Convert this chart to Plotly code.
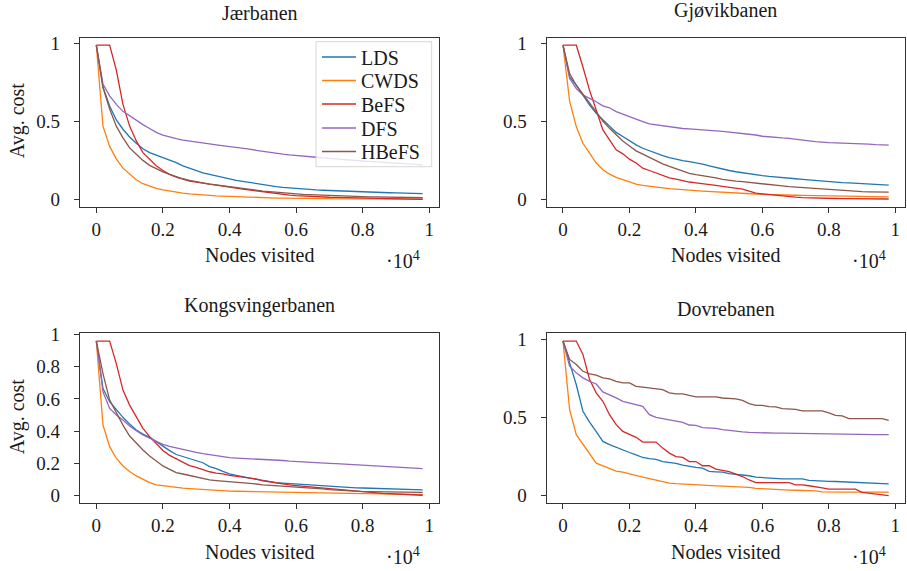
import plotly.graph_objects as go

W, H = 907, 571

nodes = list(range(0, 9801, 200))
x_tick_vals = [0, 2000, 4000, 6000, 8000, 10000]
x_tick_text = ["0", "0.2", "0.4", "0.6", "0.8", "1"]

series_names = ["LDS", "CWDS", "BeFS", "DFS", "HBeFS"]
series_colors = ["#1f77b4", "#ff7f0e", "#d62728", "#9467bd", "#8c564b"]
panel_titles = ["Jærbanen", "Gjøvikbanen", "Kongsvingerbanen", "Dovrebanen"]

# ---------------- Jærbanen ----------------
jaer_lds = [0.99, 0.72, 0.60, 0.51, 0.45, 0.40, 0.36, 0.325, 0.30, 0.285,
            0.27, 0.25, 0.235, 0.215, 0.20, 0.183, 0.17, 0.16, 0.15, 0.14,
            0.13, 0.122, 0.115, 0.108, 0.10, 0.095, 0.088, 0.082, 0.077, 0.073,
            0.07, 0.066, 0.063, 0.06, 0.058, 0.056, 0.054, 0.052, 0.05, 0.048,
            0.047, 0.046, 0.045, 0.044, 0.042, 0.041, 0.04, 0.039, 0.038, 0.037]
jaer_cwds = [0.99, 0.47, 0.34, 0.26, 0.20, 0.16, 0.125, 0.10, 0.084, 0.07,
             0.06, 0.052, 0.046, 0.04, 0.035, 0.031, 0.028, 0.025, 0.022, 0.02,
             0.018, 0.016, 0.014, 0.012, 0.011, 0.01, 0.009, 0.008, 0.007, 0.006,
             0.006, 0.005, 0.005, 0.004, 0.004, 0.004, 0.003, 0.003, 0.003, 0.003,
             0.002, 0.002, 0.002, 0.002, 0.002, 0.001, 0.001, 0.001, 0.001, 0.001]
jaer_befs = [0.99, 0.99, 0.99, 0.83, 0.61, 0.47, 0.375, 0.30, 0.26, 0.215,
             0.185, 0.16, 0.142, 0.128, 0.117, 0.11, 0.103, 0.097, 0.092, 0.085,
             0.078, 0.072, 0.066, 0.06, 0.053, 0.047, 0.042, 0.037, 0.032, 0.027,
             0.023, 0.02, 0.018, 0.016, 0.014, 0.013, 0.012, 0.011, 0.01, 0.009,
             0.008, 0.007, 0.006, 0.005, 0.004, 0.003, 0.002, 0.001, 0.0, 0.0]
jaer_dfs = [0.99, 0.74, 0.665, 0.61, 0.565, 0.535, 0.507, 0.48, 0.455, 0.43,
            0.413, 0.40, 0.39, 0.38, 0.375, 0.368, 0.362, 0.356, 0.35, 0.345,
            0.34, 0.334, 0.328, 0.322, 0.315, 0.308, 0.302, 0.297, 0.29, 0.285,
            0.28, 0.277, 0.273, 0.27, 0.266, 0.262, 0.258, 0.255, 0.252, 0.249,
            0.246, 0.243, 0.24, 0.237, 0.234, 0.231, 0.228, 0.226, 0.223, 0.221]
jaer_hbefs = [0.99, 0.72, 0.58, 0.47, 0.395, 0.33, 0.29, 0.25, 0.218, 0.195,
              0.176, 0.16, 0.145, 0.132, 0.122, 0.113, 0.105, 0.098, 0.092, 0.086,
              0.08, 0.074, 0.068, 0.063, 0.058, 0.053, 0.049, 0.045, 0.041, 0.038,
              0.035, 0.032, 0.03, 0.028, 0.026, 0.024, 0.022, 0.021, 0.02, 0.018,
              0.017, 0.016, 0.015, 0.014, 0.013, 0.012, 0.012, 0.011, 0.011, 0.01]

# ---------------- Gjøvikbanen ----------------
gjov_lds = [0.99, 0.786, 0.733, 0.67, 0.605, 0.552, 0.51, 0.467, 0.43, 0.403,
            0.375, 0.35, 0.328, 0.311, 0.297, 0.281, 0.268, 0.256, 0.248, 0.242,
            0.236, 0.226, 0.215, 0.204, 0.193, 0.185, 0.177, 0.17, 0.163, 0.157,
            0.152, 0.147, 0.142, 0.138, 0.135, 0.132, 0.128, 0.124, 0.12, 0.117,
            0.113, 0.11, 0.107, 0.105, 0.103, 0.101, 0.099, 0.096, 0.093, 0.091]
gjov_cwds = [0.99, 0.63, 0.467, 0.36, 0.297, 0.233, 0.19, 0.162, 0.141, 0.126,
             0.111, 0.098, 0.09, 0.083, 0.078, 0.073, 0.068, 0.064, 0.06, 0.058,
             0.056, 0.053, 0.05, 0.048, 0.046, 0.045, 0.043, 0.04, 0.037, 0.034,
             0.032, 0.03, 0.029, 0.028, 0.027, 0.026, 0.025, 0.024, 0.023, 0.022,
             0.02, 0.019, 0.018, 0.018, 0.017, 0.017, 0.016, 0.016, 0.015, 0.015]
gjov_befs = [0.99, 0.99, 0.99, 0.85, 0.70, 0.574, 0.446, 0.382, 0.318, 0.292,
             0.258, 0.233, 0.20, 0.185, 0.169, 0.15, 0.138, 0.13, 0.12, 0.111,
             0.106, 0.102, 0.098, 0.09, 0.083, 0.076, 0.07, 0.066, 0.052, 0.04,
             0.035, 0.03, 0.026, 0.022, 0.018, 0.014, 0.011, 0.009, 0.007, 0.006,
             0.005, 0.005, 0.004, 0.004, 0.004, 0.003, 0.003, 0.002, 0.002, 0.002]
gjov_dfs = [0.99, 0.776, 0.712, 0.67, 0.648, 0.627, 0.60, 0.588, 0.563, 0.546,
            0.53, 0.516, 0.499, 0.484, 0.478, 0.471, 0.467, 0.46, 0.455, 0.452,
            0.45, 0.447, 0.444, 0.44, 0.436, 0.432, 0.428, 0.424, 0.42, 0.413,
            0.405, 0.40, 0.397, 0.394, 0.392, 0.388, 0.383, 0.376, 0.37, 0.366,
            0.364, 0.363, 0.362, 0.361, 0.36, 0.357, 0.354, 0.351, 0.349, 0.348]
gjov_hbefs = [0.99, 0.808, 0.733, 0.674, 0.616, 0.559, 0.503, 0.456, 0.414, 0.375,
              0.343, 0.311, 0.29, 0.269, 0.247, 0.228, 0.211, 0.196, 0.18, 0.166,
              0.158, 0.152, 0.146, 0.138, 0.128, 0.121, 0.117, 0.113, 0.108, 0.103,
              0.097, 0.093, 0.09, 0.086, 0.082, 0.079, 0.075, 0.071, 0.067, 0.064,
              0.061, 0.058, 0.055, 0.052, 0.05, 0.049, 0.048, 0.047, 0.046, 0.046]

# ---------------- Kongsvingerbanen ----------------
kong_lds = [0.96, 0.665, 0.583, 0.531, 0.486, 0.444, 0.407, 0.382, 0.362, 0.335,
            0.305, 0.279, 0.255, 0.242, 0.232, 0.217, 0.204, 0.18, 0.168, 0.15,
            0.135, 0.125, 0.116, 0.108, 0.10, 0.094, 0.086, 0.08, 0.077, 0.074,
            0.072, 0.07, 0.067, 0.063, 0.06, 0.057, 0.054, 0.051, 0.049, 0.048,
            0.047, 0.046, 0.045, 0.044, 0.042, 0.04, 0.039, 0.038, 0.037, 0.036]
kong_cwds = [0.96, 0.438, 0.304, 0.232, 0.184, 0.149, 0.122, 0.10, 0.08, 0.066,
             0.06, 0.055, 0.05, 0.046, 0.043, 0.04, 0.037, 0.035, 0.032, 0.03,
             0.028, 0.027, 0.026, 0.025, 0.024, 0.023, 0.023, 0.022, 0.021, 0.02,
             0.019, 0.019, 0.018, 0.017, 0.016, 0.016, 0.015, 0.014, 0.014, 0.013,
             0.012, 0.012, 0.011, 0.01, 0.009, 0.009, 0.008, 0.007, 0.006, 0.005]
kong_befs = [0.96, 0.96, 0.96, 0.82, 0.655, 0.562, 0.486, 0.418, 0.366, 0.325,
             0.28, 0.25, 0.228, 0.207, 0.186, 0.175, 0.162, 0.148, 0.14, 0.135,
             0.125, 0.12, 0.116, 0.11, 0.104, 0.092, 0.085, 0.08, 0.072, 0.066,
             0.062, 0.058, 0.054, 0.05, 0.046, 0.042, 0.038, 0.034, 0.03, 0.027,
             0.025, 0.02, 0.016, 0.014, 0.012, 0.01, 0.008, 0.006, 0.004, 0.002]
kong_dfs = [0.96, 0.644, 0.541, 0.50, 0.469, 0.432, 0.403, 0.376, 0.356, 0.335,
            0.318, 0.305, 0.295, 0.285, 0.276, 0.268, 0.26, 0.253, 0.246, 0.24,
            0.236, 0.233, 0.231, 0.23, 0.229, 0.227, 0.225, 0.223, 0.218, 0.214,
            0.211, 0.209, 0.207, 0.205, 0.203, 0.20, 0.198, 0.196, 0.194, 0.192,
            0.19, 0.188, 0.186, 0.184, 0.182, 0.18, 0.177, 0.174, 0.171, 0.168]
kong_hbefs = [0.96, 0.758, 0.593, 0.514, 0.438, 0.37, 0.325, 0.283, 0.246, 0.217,
              0.184, 0.163, 0.143, 0.134, 0.124, 0.118, 0.108, 0.097, 0.093, 0.09,
              0.087, 0.083, 0.079, 0.076, 0.072, 0.067, 0.063, 0.06, 0.058, 0.055,
              0.052, 0.05, 0.047, 0.044, 0.041, 0.037, 0.034, 0.031, 0.028, 0.026,
              0.025, 0.024, 0.023, 0.022, 0.022, 0.021, 0.021, 0.02, 0.02, 0.02]

# ---------------- Dovrebanen ----------------
dovre_lds = [0.99, 0.85, 0.71, 0.54, 0.47, 0.41, 0.347, 0.326, 0.308, 0.292,
             0.276, 0.261, 0.244, 0.236, 0.232, 0.218, 0.212, 0.206, 0.195, 0.186,
             0.18, 0.176, 0.155, 0.152, 0.15, 0.14, 0.137, 0.13, 0.127, 0.118,
             0.115, 0.112, 0.108, 0.107, 0.107, 0.107, 0.107, 0.097, 0.094, 0.093,
             0.091, 0.09, 0.088, 0.086, 0.083, 0.08, 0.078, 0.076, 0.075, 0.075]
dovre_cwds = [0.99, 0.55, 0.39, 0.33, 0.265, 0.208, 0.19, 0.175, 0.157, 0.15,
              0.138, 0.128, 0.118, 0.108, 0.098, 0.088, 0.08, 0.076, 0.073, 0.07,
              0.068, 0.066, 0.064, 0.062, 0.06, 0.058, 0.056, 0.055, 0.053, 0.046,
              0.043, 0.041, 0.039, 0.037, 0.035, 0.034, 0.033, 0.031, 0.03, 0.024,
              0.022, 0.022, 0.022, 0.022, 0.022, 0.022, 0.022, 0.022, 0.022, 0.022]
dovre_befs = [0.99, 0.99, 0.99, 0.904, 0.743, 0.658, 0.604, 0.518, 0.454, 0.411,
              0.394, 0.373, 0.343, 0.343, 0.343, 0.304, 0.272, 0.25, 0.244, 0.218,
              0.218, 0.191, 0.191, 0.17, 0.162, 0.154, 0.138, 0.122, 0.10, 0.083,
              0.083, 0.083, 0.083, 0.083, 0.083, 0.069, 0.069, 0.063, 0.058, 0.05,
              0.041, 0.041, 0.041, 0.041, 0.041, 0.02, 0.014, 0.009, 0.005, 0.0]
dovre_dfs = [0.99, 0.829, 0.786, 0.754, 0.732, 0.715, 0.664, 0.647, 0.626, 0.604,
             0.593, 0.583, 0.572, 0.518, 0.501, 0.493, 0.486, 0.475, 0.469, 0.452,
             0.45, 0.435, 0.433, 0.43, 0.422, 0.416, 0.412, 0.408, 0.405, 0.403,
             0.402, 0.401, 0.40, 0.40, 0.399, 0.398, 0.397, 0.396, 0.395, 0.394,
             0.393, 0.392, 0.391, 0.391, 0.39, 0.39, 0.39, 0.39, 0.39, 0.39]
dovre_hbefs = [0.99, 0.872, 0.839, 0.796, 0.78, 0.771, 0.754, 0.748, 0.732, 0.722,
               0.722, 0.70, 0.694, 0.69, 0.683, 0.679, 0.658, 0.651, 0.651, 0.64,
               0.632, 0.632, 0.632, 0.632, 0.625, 0.621, 0.619, 0.61, 0.589, 0.578,
               0.578, 0.57, 0.568, 0.557, 0.555, 0.552, 0.542, 0.542, 0.542, 0.542,
               0.529, 0.514, 0.51, 0.493, 0.493, 0.493, 0.493, 0.493, 0.493, 0.482]

panels = [
    [jaer_lds, jaer_cwds, jaer_befs, jaer_dfs, jaer_hbefs],
    [gjov_lds, gjov_cwds, gjov_befs, gjov_dfs, gjov_hbefs],
    [kong_lds, kong_cwds, kong_befs, kong_dfs, kong_hbefs],
    [dovre_lds, dovre_cwds, dovre_befs, dovre_dfs, dovre_hbefs],
]
for p in panels:
    for s in p:
        assert len(s) == len(nodes), len(s)

# layout geometry (pixels)
frames = [  # left, right, top, bottom
    (80, 439, 37.5, 207),
    (546.7, 905, 37.5, 207),
    (80, 439, 333.3, 503.3),
    (546.7, 905, 333.3, 503.3),
]
y_ranges = [[-0.0495, 1.0395], [-0.0495, 1.0395], [-0.048, 1.008], [-0.0495, 1.0395]]
y_ticks = [[0, 0.5, 1], [0, 0.5, 1], [0, 0.2, 0.4, 0.6, 0.8, 1], [0, 0.5, 1]]
y_tick_text = [["0", "0.5", "1"], ["0", "0.5", "1"],
               ["0", "0.2", "0.4", "0.6", "0.8", "1"], ["0", "0.5", "1"]]

FONT = "Liberation Serif"
TXT = "#1a1a1a"

legend_ids = ["legend", "legend2", "legend3", "legend4", "legend5"]
legend_centers = [57, 80.5, 104, 128, 151.5]
legend_box = (316, 431.7, 41.7, 166.7)

fig = go.Figure()
for pi, pdata in enumerate(panels):
    ax = "" if pi == 0 else str(pi + 1)
    for si, ys in enumerate(pdata):
        fig.add_trace(go.Scatter(
            x=nodes, y=ys, mode="lines", name=series_names[si],
            line=dict(color=series_colors[si], width=1.3),
            xaxis="x" + ax, yaxis="y" + ax,
            legend=legend_ids[si],
            showlegend=(pi == 0), hoverinfo="skip"))

layout = dict(
    width=W, height=H,
    margin=dict(l=0, r=0, t=0, b=0, autoexpand=False),
    paper_bgcolor="white", plot_bgcolor="white",
    font=dict(family=FONT, size=20, color=TXT),
)
for k, lid in enumerate(legend_ids):
    layout[lid] = dict(x=(legend_box[0] + 1) / W, y=1 - legend_centers[k] / H,
                       xanchor="left", yanchor="middle",
                       bgcolor="rgba(0,0,0,0)", borderwidth=0,
                       font=dict(family=FONT, size=20, color=TXT),
                       itemwidth=34)

shapes = [dict(type="rect", xref="paper", yref="paper",
               x0=legend_box[0] / W, x1=legend_box[1] / W,
               y0=1 - legend_box[3] / H, y1=1 - legend_box[2] / H,
               fillcolor="rgba(255,255,255,0.8)",
               line=dict(color="rgba(204,204,204,0.8)", width=1),
               layer="above")]

annotations = []
for pi in range(4):
    l, r, t, b = frames[pi]
    ax = "" if pi == 0 else str(pi + 1)
    layout["xaxis" + ax] = dict(
        domain=[l / W, r / W], anchor="y" + ax, range=[-490, 10290],
        tickvals=x_tick_vals, ticktext=x_tick_text,
        ticks="outside", ticklen=5, tickwidth=1, tickcolor="#333",
        showline=True, linecolor="#333", linewidth=1.2, mirror=True,
        showgrid=False, zeroline=False, ticklabelstandoff=0,
        tickfont=dict(family=FONT, size=19, color=TXT))
    layout["yaxis" + ax] = dict(
        domain=[1 - b / H, 1 - t / H], anchor="x" + ax, range=y_ranges[pi],
        tickvals=y_ticks[pi], ticktext=y_tick_text[pi],
        ticks="outside", ticklen=5, tickwidth=1, tickcolor="#333",
        showline=True, linecolor="#333", linewidth=1.2, mirror=True,
        showgrid=False, zeroline=False, ticklabelstandoff=10,
        tickfont=dict(family=FONT, size=19, color=TXT))
    cx = (l + r) / 2
    title_y = [13, 10, 305, 309.5][pi]
    annotations.append(dict(text=panel_titles[pi], x=cx / W, y=1 - title_y / H,
                            xref="paper", yref="paper", showarrow=False,
                            xanchor="center", yanchor="middle",
                            font=dict(family=FONT, size=20, color=TXT)))
    annotations.append(dict(text="Nodes visited", x=cx / W, y=1 - (b + 48.5) / H,
                            xref="paper", yref="paper", showarrow=False,
                            xanchor="center", yanchor="middle",
                            font=dict(family=FONT, size=20, color=TXT)))
    annotations.append(dict(text="·10<sup>4</sup>", x=(r - 36) / W, y=1 - (b + 53) / H,
                            xref="paper", yref="paper", showarrow=False,
                            xanchor="center", yanchor="middle",
                            font=dict(family=FONT, size=20, color=TXT)))
    if pi in (0, 2):
        annotations.append(dict(text="Avg. cost", x=17 / W, y=1 - ((t + b) / 2 - 2) / H,
                                xref="paper", yref="paper", showarrow=False,
                                textangle=-90, xanchor="center", yanchor="middle",
                                font=dict(family=FONT, size=20, color=TXT)))
layout["annotations"] = annotations
layout["shapes"] = shapes
fig.update_layout(**layout)
fig.write_html("out.html", config={"displayModeBar": False},
               post_script="document.body.style.margin='0';document.body.style.overflow='hidden';")
